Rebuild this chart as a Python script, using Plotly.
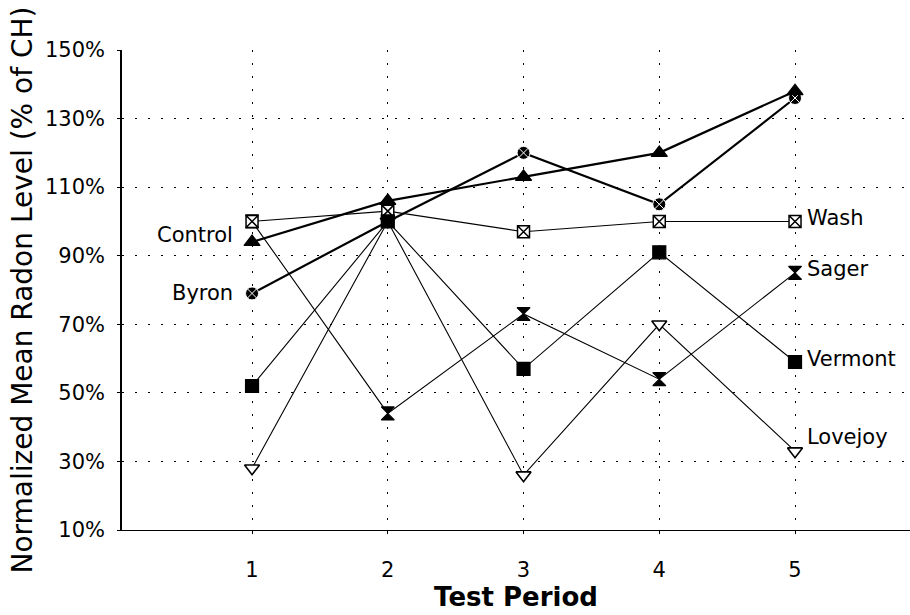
import plotly.graph_objects as go

periods = [1, 2, 3, 4, 5]
control = [94, 106, 113, 120, 138]
byron = [79, 100, 120, 105, 136]
wash = [100, 103, 97, 100, 100]
sager = [100, 44, 73, 54, 85]
vermont = [52, 100, 57, 91, 59]
lovejoy = [28, 100, 26, 70, 33]

y_ticks = [10, 30, 50, 70, 90, 110, 130, 150]

FONT = "DejaVu Sans"

fig = go.Figure()

def add(name, vals, symbol, width, size, color="black", line_color="black", line_w=1.2):
    fig.add_trace(go.Scatter(
        x=periods, y=vals, name=name, mode="lines+markers",
        line=dict(color="black", width=width),
        marker=dict(symbol=symbol, size=size, color=color,
                    line=dict(color=line_color, width=line_w)),
        showlegend=False, cliponaxis=False))

add("Sager", sager, "hourglass", 1.1, 13)
add("Wash", wash, "square-x", 1.1, 12, color="white", line_w=1.5)
add("Lovejoy", lovejoy, "triangle-down", 1.1, 13, color="white", line_w=1.6)
add("Byron", byron, "circle-x", 2.2, 13, color="black", line_color="white", line_w=1)
add("Vermont", vermont, "square", 1.1, 13)
add("Control", control, "triangle-up", 2.2, 14)

lab_font = dict(family=FONT, size=21, color="black")
left_labels = [("Control", 96), ("Byron", 79)]
right_labels = [("Wash", 101), ("Sager", 86), ("Vermont", 60), ("Lovejoy", 37)]
for t, yv in left_labels:
    fig.add_annotation(x=1, y=yv, text=t, showarrow=False, xanchor="right",
                       xshift=-17, font=lab_font)
for t, yv in right_labels:
    fig.add_annotation(x=5, y=yv, text=t, showarrow=False, xanchor="left",
                       xshift=10, font=lab_font)

grid_dash = "2px,11px"
fig.update_layout(
    width=910, height=615,
    margin=dict(l=122, r=0, t=50, b=85),
    paper_bgcolor="white", plot_bgcolor="white",
    font=dict(family=FONT, color="black"),
    xaxis=dict(
        range=[0.042, 5.847], tickvals=periods, ticktext=[str(p) for p in periods],
        showgrid=True, gridcolor="black", griddash=grid_dash, gridwidth=1.2,
        zeroline=False, showline=True, linecolor="black", linewidth=1,
        ticks="outside", ticklen=3, tickcolor="black",
        ticklabelstandoff=18,
        tickfont=dict(family=FONT, size=21),
        title=dict(text="<b>Test Period</b>", font=dict(family=FONT, size=26), standoff=2),
    ),
    yaxis=dict(
        range=[10, 150], tickvals=y_ticks, ticktext=[f"{v}%" for v in y_ticks],
        showgrid=True, gridcolor="black", griddash=grid_dash, gridwidth=1.2,
        zeroline=False, showline=True, linecolor="black", linewidth=1.5,
        ticks="outside", ticklen=3, tickcolor="black",
        ticklabelstandoff=8,
        tickfont=dict(family=FONT, size=21),
        title=dict(text="Normalized Mean Radon Level (% of CH)",
                   font=dict(family=FONT, size=28), standoff=4),
    ),
)

fig.write_html("out.html")
